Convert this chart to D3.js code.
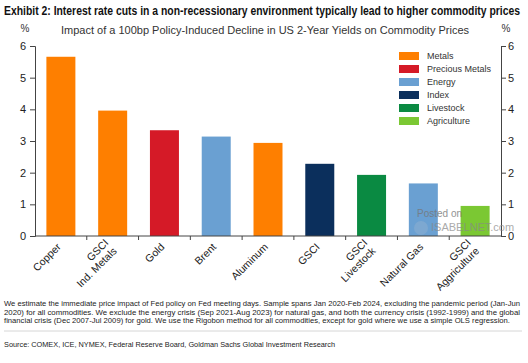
<!DOCTYPE html>
<html>
<head>
<meta charset="utf-8">
<script src="https://d3js.org/d3.v7.min.js"></script>
<style>
  body { margin: 0; background: #fff; }
  svg { display: block; font-family: "Liberation Sans", Arial, sans-serif; }
</style>
</head>
<body>
<script>
// datos
var categorias = ["Copper", "GSCI\nInd. Metals", "Gold", "Brent", "Aluminum", "GSCI", "GSCI\nLivestock", "Natural Gas", "GSCI\nAggriculture"];
var valores = [5.66, 3.96, 3.34, 3.14, 2.94, 2.28, 1.93, 1.66, 0.95];
var grupos = ["Metals", "Metals", "Precious Metals", "Energy", "Metals", "Index", "Livestock", "Energy", "Agriculture"];
var leyenda = ["Metals", "Precious Metals", "Energy", "Index", "Livestock", "Agriculture"];
var colores = ["#fe7f00", "#d51a27", "#6aa0d2", "#0b2f5c", "#0a8a42", "#7bc833"];
var ticksY = [0, 1, 2, 3, 4, 5, 6];

var width = 528, height = 363;
var margin = { top: 46, bottom: 127, left: 35, right: 27 };

var svg = d3.select("body").append("svg")
  .attr("width", width)
  .attr("height", height);

// titulo
svg.append("text")
  .attr("x", 4).attr("y", 15)
  .attr("textLength", 516).attr("lengthAdjust", "spacingAndGlyphs")
  .style("font-family", "'Liberation Sans Narrow', 'Liberation Sans', Arial")
  .style("font-weight", "bold")
  .style("font-size", "12px")
  .attr("fill", "#111")
  .text("Exhibit 2: Interest rate cuts in a non-recessionary environment typically lead to higher commodity prices");

svg.append("text")
  .attr("x", 265).attr("y", 34)
  .attr("text-anchor", "middle")
  .style("font-size", "11px")
  .attr("fill", "#333")
  .text("Impact of a 100bp Policy-Induced Decline in US 2-Year Yields on Commodity Prices");

svg.append("text").attr("x", 25).attr("y", 32).attr("text-anchor", "middle")
  .style("font-size", "10px").attr("fill", "#333").text("%");
svg.append("text").attr("x", 506).attr("y", 32).attr("text-anchor", "middle")
  .style("font-size", "10px").attr("fill", "#333").text("%");

var x = d3.scaleBand()
  .domain(categorias)
  .range([margin.left, width - margin.right])
  .paddingInner(0.44)
  .paddingOuter(0.22);

var y = d3.scaleLinear()
  .domain([0, 6])
  .range([height - margin.bottom, margin.top]);

var color = d3.scaleOrdinal().domain(leyenda).range(colores);

// barras
svg.selectAll("rect.barra")
  .data(valores)
  .join("rect")
  .attr("class", "barra")
  .attr("x", function(d, i) { return x(categorias[i]); })
  .attr("width", x.bandwidth())
  .attr("y", function(d) { return y(d); })
  .attr("height", function(d) { return y(0) - y(d); })
  .attr("fill", function(d, i) { return color(grupos[i]); });

// ejes Y
var ejeIzq = d3.axisLeft(y).tickValues(ticksY).tickFormat(d3.format("d")).tickSize(5).tickSizeOuter(5).tickPadding(4);
var gIzq = svg.append("g")
  .attr("transform", "translate(" + margin.left + ",0)")
  .call(ejeIzq);

var ejeDer = d3.axisRight(y).tickValues(ticksY).tickFormat(d3.format("d")).tickSize(5).tickSizeOuter(5).tickPadding(2);
var gDer = svg.append("g")
  .attr("transform", "translate(" + (width - margin.right) + ",0)")
  .call(ejeDer);

[gIzq, gDer].forEach(function(g) {
  g.selectAll("path, line").attr("stroke", "#444");
  g.selectAll("text").style("font-size", "11px").attr("fill", "#222").style("font-family", "'Liberation Sans', Arial");
});

// eje X con marcas en los limites de cada banda
var step = x.step();
var limites = d3.range(1, categorias.length).map(function(i) { return margin.left + x.paddingOuter() * step + i * step - x.paddingInner() * step / 2; });
var gX = svg.append("g");
gX.append("line")
  .attr("x1", margin.left).attr("x2", width - margin.right)
  .attr("y1", y(0)).attr("y2", y(0))
  .attr("stroke", "#444");
gX.selectAll("line.tick")
  .data(limites)
  .join("line")
  .attr("class", "tick")
  .attr("x1", function(d) { return d; }).attr("x2", function(d) { return d; })
  .attr("y1", y(0)).attr("y2", y(0) + 4)
  .attr("stroke", "#444");

// etiquetas rotadas
var etiquetas = svg.selectAll("text.etiqueta")
  .data(categorias)
  .join("text")
  .attr("class", "etiqueta")
  .attr("text-anchor", "end")
  .style("font-size", "10.5px")
  .attr("fill", "#222")
  .attr("transform", function(d) {
    var cx = x(d) + x.bandwidth() / 2;
    return "translate(" + (cx - 2) + "," + (y(0) + 9) + ") rotate(-45)";
  });

etiquetas.each(function(d) {
  var lineas = d.split("\n");
  var t = d3.select(this);
  lineas.forEach(function(l, j) {
    t.append("tspan")
      .attr("x", 0)
      .attr("dy", j === 0 ? (0.35 - (lineas.length - 1) * 0.55) + "em" : "1.1em")
      .text(l);
  });
});

// leyenda
var gLey = svg.append("g").attr("transform", "translate(399,52)");
gLey.selectAll("rect")
  .data(leyenda)
  .join("rect")
  .attr("x", 0).attr("y", function(d, i) { return i * 13; })
  .attr("width", 20).attr("height", 8)
  .attr("fill", function(d) { return color(d); });
gLey.selectAll("text")
  .data(leyenda)
  .join("text")
  .attr("x", 28).attr("y", function(d, i) { return i * 13 + 4; })
  .attr("dy", "0.35em")
  .style("font-size", "9px")
  .attr("fill", "#333")
  .text(function(d) { return d; });

// marca de agua
svg.append("text").attr("x", 417).attr("y", 217)
  .style("font-size", "10px").attr("fill", "#777").attr("opacity", 0.8).text("Posted on");
svg.append("circle").attr("cx", 421).attr("cy", 228).attr("r", 7)
  .attr("fill", "#8aaed0").attr("opacity", 0.6);
svg.append("text").attr("x", 431).attr("y", 231)
  .style("font-size", "11px").attr("fill", "#888").attr("opacity", 0.7).text("ISABELNET.com");

// notas
var notas = [
  "We estimate the immediate price impact of Fed policy on Fed meeting days. Sample spans Jan 2020-Feb 2024, excluding the pandemic period (Jan-Jun",
  "2020) for all commodities. We exclude the energy crisis (Sep 2021-Aug 2023) for natural gas, and both the currency crisis (1992-1999) and the global",
  "financial crisis (Dec 2007-Jul 2009) for gold. We use the Rigobon method for all commodities, except for gold where we use a simple OLS regression."
];
var anchos = [516, 516, 506];
svg.selectAll("text.nota")
  .data(notas)
  .join("text")
  .attr("class", "nota")
  .attr("x", 4)
  .attr("y", function(d, i) { return 306 + i * 8.5; })
  .attr("textLength", function(d, i) { return anchos[i]; })
  .attr("lengthAdjust", "spacingAndGlyphs")
  .style("font-family", "'Liberation Sans Narrow', 'Liberation Sans', Arial")
  .style("font-size", "7.8px")
  .attr("fill", "#222")
  .text(function(d) { return d; });

svg.append("line")
  .attr("x1", 4).attr("x2", 522).attr("y1", 331).attr("y2", 331)
  .attr("stroke", "#ccc").attr("stroke-width", 0.8);

svg.append("text")
  .attr("x", 4).attr("y", 347)
  .attr("textLength", 331).attr("lengthAdjust", "spacingAndGlyphs")
  .style("font-family", "'Liberation Sans Narrow', 'Liberation Sans', Arial")
  .style("font-size", "8px")
  .attr("fill", "#222")
  .text("Source: COMEX, ICE, NYMEX, Federal Reserve Board, Goldman Sachs Global Investment Research");
</script>
</body>
</html>
